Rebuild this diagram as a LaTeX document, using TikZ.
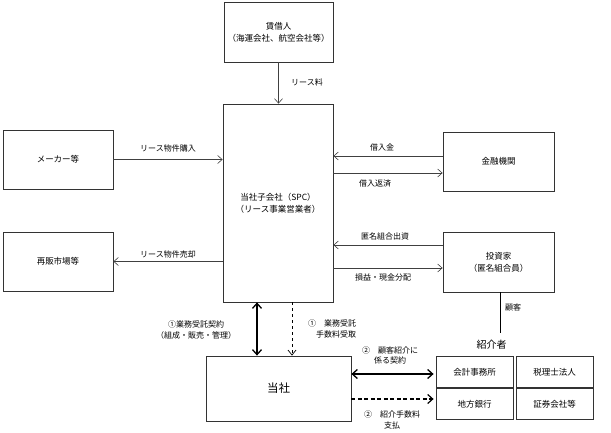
\documentclass[tikz,border=0pt]{standalone}
\usepackage{fontspec}
\setmainfont{Noto Sans CJK JP}
\usetikzlibrary{arrows.meta}

\begin{document}
\begin{tikzpicture}[x=1pt,y=-1pt,
    nodes={font=\fontsize{8}{10.5}\selectfont,align=center},
    box/.style={draw=black!80,line width=0.8pt,inner sep=0pt,
      minimum width=110pt,minimum height=59pt,font=\fontsize{8.5}{12}\selectfont},
    cell/.style={box,minimum width=77pt,minimum height=31pt},
    flow/.style={draw=black!75,line width=0.6pt,-{Straight Barb[length=4.5pt,width=8pt]}},
    contract/.style={line width=1.3pt,
      {Straight Barb[length=5pt,width=9pt]}-{Straight Barb[length=5pt,width=9pt]}},
    fee/.style={line width=0.7pt,dashed,-{Straight Barb[length=5pt,width=8pt]}},
    bigfee/.style={fee,line width=1.2pt,dash pattern=on 4pt off 2.5pt,
      -{Straight Barb[length=5pt,width=9pt]}}
  ]
  \useasboundingbox (0,0) rectangle (611,433);

  % boxes
  \node[box,minimum width=109pt,minimum height=60pt] (lessee) at (278.5,32)
    {賃借人\\（海運会社、航空会社等）};
  \node[box,minimum height=198pt] (spc) at (278,203)
    {当社子会社（SPC）\\（リース事業営業者）};
  \node[box] (maker) at (58,159.5) {メーカー等};
  \node[box] (resale) at (58,261.5) {再販市場等};
  \node[box,minimum width=111pt] (bank) at (498.5,161.5) {金融機関};
  \node[box,minimum width=111pt,minimum height=60pt] (investor) at (498.5,262)
    {投資家\\（匿名組合員）};
  \node[box,minimum width=145pt,minimum height=65pt,
    font=\fontsize{11.5}{14}\selectfont] (tosha) at (278.5,388.5) {当社};

  % referrers
  \foreach \name/\x/\y/\txt in {acct/474.5/372/会計事務所,
      taxfirm/554.5/372/税理士法人,
      localbank/474.5/404/地方銀行,
      broker/554.5/404/証券会社等}
    \node[cell] (\name) at (\x,\y) {\txt};
  \node[font=\fontsize{10}{12}\selectfont] (referrer) at (491.5,345) {紹介者};

  % helper points
  \coordinate (loan) at ([yshift=5.5pt]bank.west);
  \coordinate (repay) at ([yshift=-11.5pt]bank.west);
  \coordinate (invest) at ([yshift=17pt]investor.west);
  \coordinate (profit) at ([yshift=-6pt]investor.west);
  \coordinate (svc) at ([xshift=-21pt]spc.south);
  \coordinate (svcfee) at ([xshift=14pt]spc.south);
  \coordinate (intro) at ([yshift=14.5pt]tosha.east);
  \coordinate (introfee) at ([yshift=-10.5pt]tosha.east);
  \coordinate (client) at (500,333);

  % connectors
  \draw[flow] (lessee.south) -- (lessee.south |- spc.north);
  \draw[flow] (maker.east) -- (maker.east -| spc.west);
  \draw[flow] (resale.east -| spc.west) -- (resale.east);
  \draw[flow] (loan) -- (loan -| spc.east);
  \draw[flow] (repay -| spc.east) -- (repay);
  \draw[flow] (invest) -- (invest -| spc.east);
  \draw[flow] (profit -| spc.east) -- (profit);
  \draw[contract] (svc) -- (svc |- tosha.north);
  \draw[fee] (svcfee) -- (svcfee |- tosha.north);
  \draw[contract,shorten >=2pt] (intro) -- (intro -| acct.west);
  \draw[bigfee,shorten >=2pt] (introfee) -- (introfee -| localbank.west);
  \draw[line width=0.8pt] (investor.south -| client) -- (client);

  % labels
  \node (rent) at (307,82) {リース料};
  \node (buy) at (168,148) {リース物件購入};
  \node (sell) at (168,254) {リース物件売却};
  \node (loanlbl) at (382,147) {借入金};
  \node (repaylbl) at (375,183) {借入返済};
  \node (investlbl) at (385,236) {匿名組合出資};
  \node (profitlbl) at (383,277) {損益・現金分配};
  \node (clientlbl) at (513,307) {顧客};
  \node (svclbl) at (196,330) {①業務受託契約\\（組成・販売・管理）};
  \node[align=right] (svcfeelbl) at (332,329) {①　業務受託\\手数料受取};
  \node (introlbl) at (390,355.5) {②　顧客紹介に\\係る契約};
  \node (introfeelbl) at (392,420) {②　紹介手数料\\支払};
\end{tikzpicture}
\end{document}
